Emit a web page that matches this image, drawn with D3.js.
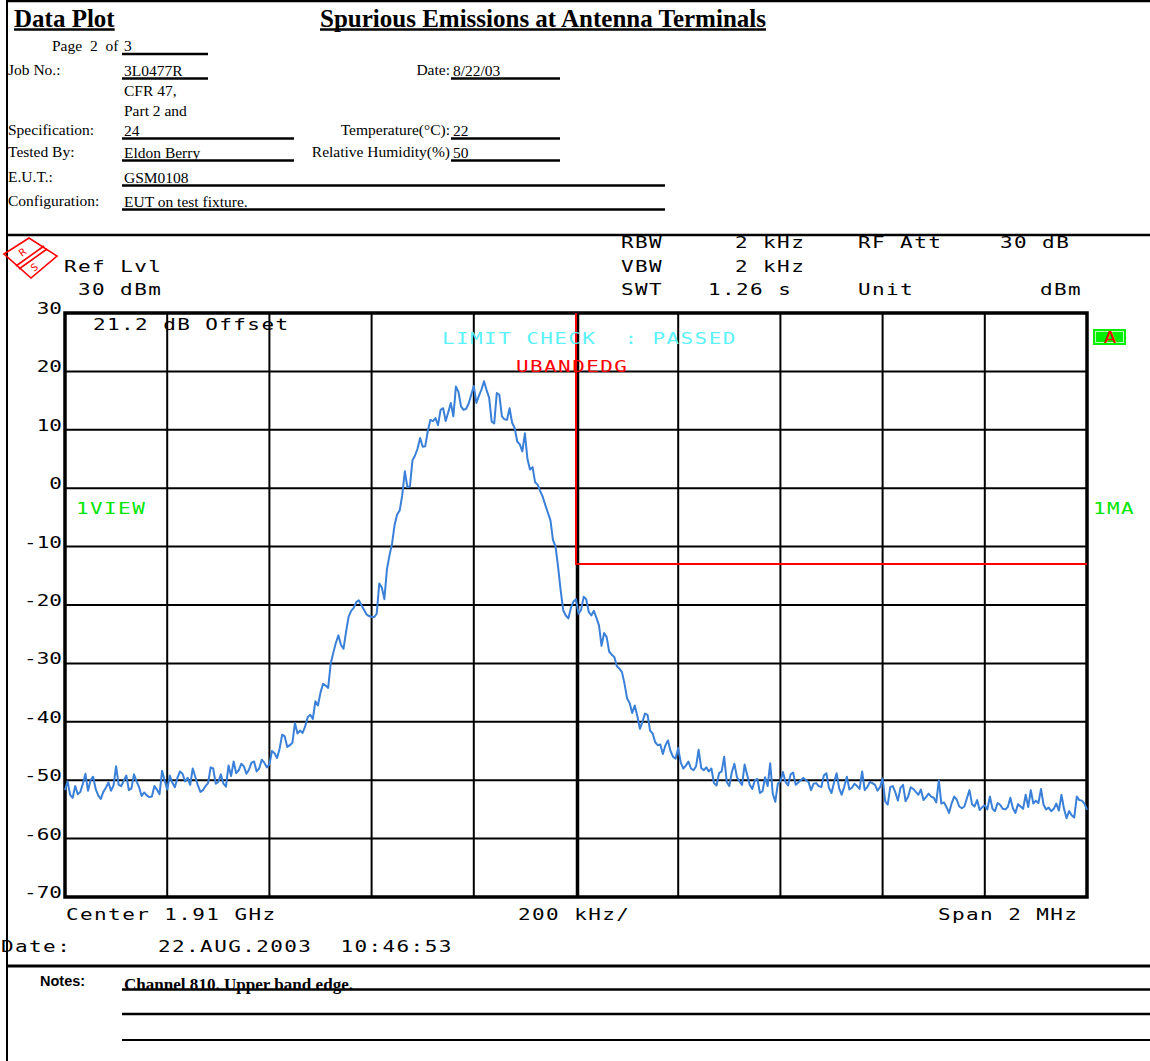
<!DOCTYPE html>
<html><head><meta charset="utf-8">
<script src="https://cdn.jsdelivr.net/npm/d3@7"></script>
<style>
body{margin:0;background:#fff}
svg{display:block}
.inst{font-family:"DejaVu Sans Mono",monospace;font-size:15px;letter-spacing:1px;white-space:pre}
.serif{font-family:"Liberation Serif","Times New Roman",serif;white-space:pre}
</style>
</head><body>
<script>
// Sweep settings: 2 MHz span centred on 1.91 GHz, 401 sweep points
const startMHz = 1909, stopMHz = 1911;
const limitDbm = -13;          // upper band edge limit
const bandEdgeMHz = 1910;
const refLevelDbm = 30, bottomDbm = -70;

// Trace 1 (max hold), dBm at each sweep point
const traceDbm = [
 -51.7,-50.2,-52.5,-53.0,-51.0,-52.4,-52.0,-50.6,-48.9,-51.8,
 -50.0,-49.4,-51.5,-52.6,-53.2,-52.0,-51.3,-50.4,-51.8,-50.9,
 -47.6,-50.8,-51.0,-50.1,-49.2,-51.7,-51.4,-49.0,-50.2,-51.2,
 -52.7,-52.1,-52.6,-52.9,-52.8,-51.0,-51.6,-52.4,-48.4,-50.0,
 -51.6,-49.2,-50.4,-51.2,-49.6,-48.5,-48.9,-50.2,-49.6,-50.8,
 -48.0,-49.4,-50.9,-52.0,-51.7,-51.0,-50.5,-47.8,-48.0,-50.6,
 -50.3,-49.0,-50.6,-51.1,-47.5,-49.3,-46.8,-48.8,-48.3,-47.2,
 -47.6,-48.9,-48.2,-47.0,-46.8,-48.5,-48.0,-46.5,-47.0,-47.8,
 -47.3,-45.0,-45.4,-46.2,-44.6,-42.2,-42.5,-44.3,-44.0,-43.6,
 -40.2,-42.0,-41.5,-41.9,-40.8,-39.2,-38.8,-39.5,-36.5,-37.2,
 -35.0,-33.5,-33.8,-34.2,-30.0,-28.2,-26.5,-25.2,-26.8,-27.5,
 -24.6,-22.0,-21.0,-20.5,-19.5,-19.2,-20.0,-20.8,-21.6,-21.9,
 -22.0,-22.1,-21.5,-16.3,-17.0,-19.0,-13.9,-11.5,-9.5,-6.3,
 -4.5,-3.8,-1.2,2.9,0.2,0.3,4.8,5.6,6.8,8.6,
 7.1,7.2,9.8,11.7,11.5,12.0,10.8,13.4,13.7,11.5,
 13.0,14.6,12.3,17.4,16.5,14.0,13.4,13.6,14.5,16.0,
 17.5,14.6,15.8,16.9,18.3,16.8,15.5,11.4,11.1,16.3,
 16.0,12.3,11.8,11.7,13.7,11.2,10.3,8.0,7.5,6.3,
 9.4,5.0,3.2,3.6,1.0,0.6,-0.5,-1.5,-2.9,-4.2,
 -5.5,-8.9,-10.0,-13.5,-17.5,-20.9,-21.8,-22.3,-20.5,-19.4,
 -19.0,-21.5,-20.8,-18.6,-19.0,-21.2,-21.8,-21.0,-22.2,-23.5,
 -27.0,-24.8,-25.5,-28.0,-28.5,-28.9,-30.5,-30.9,-31.5,-33.5,
 -36.0,-36.8,-38.5,-37.2,-39.0,-41.2,-40.0,-38.6,-38.8,-41.5,
 -42.0,-43.5,-44.0,-43.9,-45.5,-44.0,-43.2,-45.0,-46.0,-46.3,
 -44.5,-47.0,-48.0,-47.5,-46.8,-48.0,-48.3,-47.6,-44.8,-47.9,
 -48.3,-47.8,-48.5,-48.0,-50.5,-50.9,-48.8,-48.5,-46.0,-50.3,
 -51.0,-48.6,-47.2,-49.5,-50.2,-50.8,-47.3,-49.1,-50.8,-51.5,
 -50.0,-49.8,-52.2,-51.9,-49.5,-51.0,-47.1,-52.3,-53.7,-50.6,
 -50.2,-48.6,-50.3,-50.9,-49.0,-48.7,-50.8,-50.4,-50.0,-49.6,
 -50.0,-50.3,-51.7,-50.6,-50.5,-51.0,-51.2,-49.2,-48.8,-51.3,
 -52.2,-50.4,-48.8,-51.4,-52.5,-51.1,-49.4,-51.6,-51.3,-50.6,
 -51.0,-51.5,-48.5,-51.7,-51.2,-50.3,-50.5,-50.8,-51.8,-51.2,
 -49.7,-53.6,-54.2,-51.2,-51.0,-52.1,-53.5,-51.3,-50.8,-53.6,
 -52.8,-51.2,-51.5,-52.0,-52.5,-51.6,-53.4,-52.9,-52.3,-52.8,
 -53.0,-53.8,-50.0,-54.0,-53.8,-54.6,-55.6,-54.0,-52.8,-53.3,
 -54.5,-54.8,-54.5,-53.1,-51.7,-54.1,-54.5,-53.4,-55.1,-54.6,
 -54.3,-55.0,-52.8,-54.9,-55.3,-53.9,-54.2,-54.9,-55.0,-54.6,
 -53.0,-54.8,-55.6,-54.1,-54.5,-54.9,-52.5,-54.6,-51.7,-54.0,
 -53.5,-53.9,-51.5,-54.2,-55.0,-54.7,-55.3,-54.9,-54.0,-55.2,
 -52.5,-54.9,-56.5,-55.3,-56.0,-56.4,-52.8,-53.4,-53.5,-54.0,
 -55.1
];
const yTickLabels = ["30","20","10","0","-10","-20","-30","-40","-50","-60","-70"];

// Report header fields
const headerRows = [
  {label:"Job No.:", value:"3L0477R", y:76, lineEnd:208, r:{label:"Date:", value:"8/22/03"}},
  {label:"Specification:", value:"24", y:136, lineEnd:294, r:{label:"Temperature(°C):", value:"22"}},
  {label:"Tested By:", value:"Eldon Berry", y:158, lineEnd:294, r:{label:"Relative Humidity(%)", value:"50"}},
  {label:"E.U.T.:", value:"GSM0108", y:183, lineEnd:665},
  {label:"Configuration:", value:"EUT on test fixture.", y:207, lineEnd:665}
];

const W = 1150, H = 1061;
const svg = d3.select("body").append("svg").attr("width", W).attr("height", H);

const blk = "#000";
function line(x1,y1,x2,y2,w,c){ svg.append("line").attr("x1",x1).attr("y1",y1).attr("x2",x2).attr("y2",y2).attr("stroke",c||blk).attr("stroke-width",w); }

// ---- page frame ----
line(7,1,W,1,2.5);
line(7,0,7,H,2);
line(7,235,W,235,2.5);
line(7,966,W,966,3);

// ---- header ----
function serif(x,y,str,size,bold,anchor){
  return svg.append("text").attr("class","serif").attr("x",x).attr("y",y)
   .attr("font-size",size).attr("font-weight",bold?"bold":"normal")
   .attr("text-anchor",anchor||"start").text(str);
}
function underlined(x,y,str,size){
  const t = serif(x,y,str,size,true);
  const w = t.node().getComputedTextLength();
  line(x,y+2.5,x+w,y+2.5,2.5);
}
underlined(14,27,"Data Plot",25);
underlined(320,27,"Spurious Emissions at Antenna Terminals",25);

const fs = 15.5;
serif(52,51,"Page  2  of ",fs);
serif(124,51,"3",fs);
line(122,54,208,54,2.5);
serif(124,96,"CFR 47,",fs);
serif(124,116,"Part 2 and",fs);
headerRows.forEach(r=>{
  serif(8,r.y-1,r.label,fs);
  serif(124,r.y,r.value,fs);
  line(122,r.y+2.5,r.lineEnd,r.y+2.5,2.5);
  if(r.r){
    serif(450,r.y-1,r.r.label,fs,false,"end");
    serif(453,r.y,r.r.value,fs);
    line(451,r.y+2.5,560,r.y+2.5,2.5);
  }
});

// ---- notes ----
svg.append("text").attr("x",40).attr("y",986).attr("font-family","Liberation Sans, Arial, sans-serif")
  .attr("font-weight","bold").attr("font-size",14.5).text("Notes:");
serif(124,990,"Channel 810. Upper band edge.",16,true).attr("textLength",229).attr("lengthAdjust","spacingAndGlyphs");
line(122,989.5,W,989.5,2.5);
line(122,1014,W,1014,2.5);
line(122,1040,W,1040,2);

// ---- analyzer screen ----
const L = 65, R = 1087, T = 313, B = 897;
const x = d3.scaleLinear().domain([startMHz, stopMHz]).range([L, R]);
const y = d3.scaleLinear().domain([bottomDbm, refLevelDbm]).range([B, T]);
const stepMHz = (stopMHz - startMHz) / (traceDbm.length - 1);

// analyzer screen font: wide monospaced glyphs
const SX = 1.4;
function inst(xp,yp,str,color,anchor,ls){
  const t = svg.append("text").attr("class","inst")
    .attr("transform",`translate(${xp},${yp}) scale(${SX},1)`)
    .attr("fill",color||blk).attr("text-anchor",anchor||"start").text(str);
  if(ls!==undefined) t.style("letter-spacing",ls+"px");
  return t;
}

// R&S logo
const logo = svg.append("g").attr("stroke","#f00").attr("fill","none").attr("stroke-width",1.6);
logo.append("path").attr("d","M4,254 L29,238 L57,256 L31,278 Z");
logo.append("path").attr("d","M16,266 L44,246 M19,269 L47,249");
svg.append("text").attr("x",19).attr("y",256).attr("fill","#f00").attr("font-family","DejaVu Sans")
  .attr("font-size",10).attr("transform","rotate(-35 22 252)").text("R");
svg.append("text").attr("x",31).attr("y",271).attr("fill","#f00").attr("font-family","DejaVu Sans")
  .attr("font-size",10).attr("transform","rotate(-35 34 267)").text("S");

inst(64,272,"Ref Lvl");
inst(78,295,"30 dBm");
inst(621,248,"RBW");   inst(735,248,"2 kHz"); inst(858,248,"RF Att"); inst(1000,248,"30 dB");
inst(621,272,"VBW");   inst(735,272,"2 kHz");
inst(621,295,"SWT");   inst(708,295,"1.26 s"); inst(858,295,"Unit"); inst(1040,295,"dBm");

// grid
const xTicks = x.ticks(10);
const g = svg.append("g");
g.selectAll("line.v").data(xTicks.slice(1,-1)).join("line")
  .attr("x1",d=>x(d)).attr("x2",d=>x(d)).attr("y1",T).attr("y2",B)
  .attr("stroke",blk).attr("stroke-width",d=>Math.abs(d-bandEdgeMHz)<1e-9?3.5:2)
  .attr("transform",d=>Math.abs(d-bandEdgeMHz)<1e-9?"translate(1.5,0)":null);
const yVals = yTickLabels.map(Number);
g.selectAll("line.h").data(yVals.slice(1,-1)).join("line")
  .attr("x1",L).attr("x2",R).attr("y1",d=>y(d)).attr("y2",d=>y(d))
  .attr("stroke",blk).attr("stroke-width",2);
svg.append("rect").attr("x",L).attr("y",T).attr("width",R-L).attr("height",B-T)
  .attr("fill","none").attr("stroke",blk).attr("stroke-width",3.5);

// y labels
yTickLabels.forEach(d => inst(62, y(+d)+1, d, blk, "end", 0));

// limit line
svg.append("path").attr("fill","none").attr("stroke","#f00").attr("stroke-width",2)
  .attr("d", d3.line()([[x(bandEdgeMHz), y(refLevelDbm)], [x(bandEdgeMHz), y(limitDbm)], [x(stopMHz), y(limitDbm)]]));

// trace
svg.append("path").datum(traceDbm).attr("fill","none").attr("stroke","#3a80d8").attr("stroke-width",2)
  .attr("stroke-linejoin","round")
  .attr("d", d3.line().x((d,i)=>x(startMHz + i*stepMHz)).y(d=>y(d)));

inst(93,330,"21.2 dB Offset");
inst(442,344,"LIMIT CHECK  : PASSED","#5cf2fa");
inst(516,372,"UBANDEDG","#f00");
inst(76,514,"1VIEW","#00e600");
inst(1093,514,"1MA","#00e600");

// trace A indicator
svg.append("rect").attr("x",1093).attr("y",329).attr("width",33).attr("height",16).attr("fill","#00f000");
svg.append("rect").attr("x",1095.5).attr("y",331.5).attr("width",28).attr("height",11).attr("fill","none").attr("stroke","#b8ffb8").attr("stroke-width",1);
inst(1110,343,"A","#f00","middle",0);

inst(66,920,"Center 1.91 GHz");
inst(518,920,"200 kHz/");
inst(938,920,"Span 2 MHz");
inst(1,952,"Date:");
inst(158,952,"22.AUG.2003  10:46:53");
line(7,935,7,966,2);
</script>
</body></html>
